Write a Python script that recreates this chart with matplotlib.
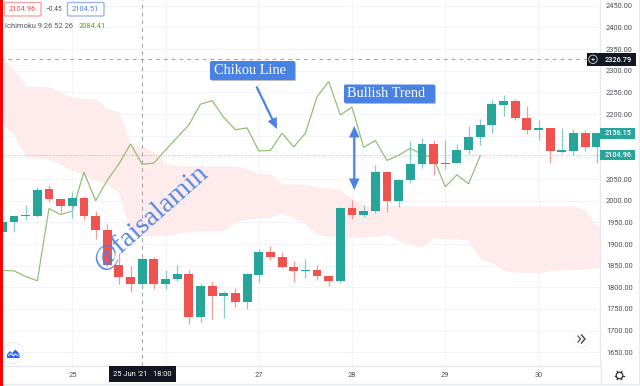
import matplotlib
matplotlib.use("Agg")
import matplotlib.pyplot as plt
from matplotlib.patches import Rectangle, FancyBboxPatch, Circle, FancyArrow, Polygon
import numpy as np

W, H = 640, 386
AX_R, AX_B = 600, 366

# candle data: open, high, low, close, one value per 3-hour candle
first_index = -6
opens = [1928,1950,1964,1964,2027,2004,1988,2006,1964,1933,1852,1824,1808,1865,1808,1820,
         1831,1731,1802,1779,1788,1765,1829,1882,1870,1848,1838,1839,1825,1815,1982,1968,
         1976,2066,2000,2047,2085,2131,2084,2087,2117,2146,2175,2222,2231,2192,2164,2168,
         2113,2115,2156,2124]
highs = [1955,1968,1990,2032,2036,2004,2020,2010,1976,1947,1879,1849,1870,1869,1841,1852,
         1841,1810,1814,1791,1798,1834,1888,1895,1881,1860,1865,1852,1827,1985,2001,1989,
         2083,2069,2050,2137,2145,2140,2140,2130,2172,2189,2235,2245,2235,2219,2186,2169,
         2168,2165,2163,2157]
lows = [1925,1927,1956,1962,1996,1971,1960,1956,1912,1850,1808,1790,1796,1796,1795,1814,
        1716,1720,1727,1728,1755,1751,1812,1862,1844,1812,1822,1816,1802,1810,1958,1962,
        1971,1975,1985,2042,2076,2059,2073,2086,2107,2129,2157,2196,2186,2154,2140,2086,
        2110,2105,2114,2088]
closes = [1950,1965,1966,2025,2004,1988,2006,1964,1933,1852,1824,1808,1865,1808,1820,1831,
          1731,1802,1779,1788,1765,1830,1882,1870,1848,1838,1840,1825,1815,1982,1968,1976,
          2066,2000,2047,2085,2131,2084,2087,2117,2146,2175,2223,2231,2192,2164,2168,2115,
          2116,2156,2124,2156]

# Chikou line
chikou = [1839,1838,1825,1815,1982,1968,1976,2066,2000,2047,2085,2131,2084,2087,2117,2146,
          2175,2223,2231,2192,2164,2168,2115,2116,2156,2124,2156,2240,2275,2198,2216,2123,
          2139,2093,2105,2121,2107,2099,2032,2060,2039,2104]

# cloud edges
cloud_upper = [2329,2302,2265,2264,2263,2252,2239,2236,2235,2212,2205,2129,2127,2112,2085,2081,
               2080,2080,2080,2080,2080,2075,2063,2062,2039,2039,2038,2032,2030,2025,2006,1989,
               1988,1988,1988,1988,1988,1988,1988,1988,1988,1988,1988,1988,1988,1988,1988,1988,
               1988,1988,1979,1942]
cloud_lower = [2179,2152,2102,2099,2096,2084,2071,2059,2048,2039,2018,1925,1919,1919,1919,1925,
               1929,1930,1930,1931,1952,1958,1960,1962,1972,1960,1946,1922,1918,1916,1916,1916,
               1917,1923,1908,1899,1893,1915,1912,1912,1908,1864,1856,1838,1835,1834,1833,1839,
               1840,1841,1842,1844]

price_ticks = [1650,1700,1750,1800,1850,1900,1950,2000,2050,2100,2150,2200,2250,2300,2350,2400,2450]
price_labels_hidden = [2100, 2150]
day_ticks = [0, 8, 16, 24, 32, 40]
day_labels = ["25", "", "27", "28", "29", "30"]

crosshair_price = 2326.79
crosshair_index = 6
last_price = 2104.96
label_price = 2156.15

GREEN, RED = "#26a69a", "#ef5350"
BLUE = "#4a82e4"
FONT = "Roboto"
SERIF = "Liberation Serif"

fig = plt.figure(figsize=(W/100, H/100), dpi=100, facecolor="white")
ax = fig.add_axes([0, 1-AX_B/H, AX_R/W, AX_B/H])
sp = 11.655
ax.set_xlim((0-72.3)/sp, (AX_R-72.3)/sp)
ax.set_ylim(2000-(AX_B-200.7)*2.309, 2000+200.7*2.309)

idx = np.arange(first_index, first_index+len(opens))
ax.set_yticks(price_ticks)
ax.set_xticks(day_ticks)
ax.set_xticklabels(day_labels)
ax.yaxis.tick_right()
ax.tick_params(axis="both", length=0, labelsize=5.3, labelcolor="#4c4f58", labelfontfamily=FONT)
ax.tick_params(axis="y", pad=4.3)
ax.tick_params(axis="x", pad=4.5)
ax.set_yticklabels([f"{p}.00" if p not in price_labels_hidden else "" for p in price_ticks])
ax.grid(True, color="#f2f4f9", lw=0.8, zorder=0)
ax.set_axisbelow(True)
for n, s in ax.spines.items():
    s.set_visible(n in ("right", "bottom"))
    s.set_color("#e6e8ee")
    s.set_linewidth(1.0)

# cloud
cx = np.append(idx, idx[-1]+0.25)
ax.fill_between(cx, cloud_lower+[cloud_lower[-1]], cloud_upper+[cloud_upper[-1]],
                color="#feecec", lw=0, zorder=1)

# crosshair and price line
ax.axvline(crosshair_index, color="#a4a6ac", lw=0.8, ls=(0, (3.5, 3.5)), zorder=2)
ax.axhline(crosshair_price, color="#a4a6ac", lw=0.8, ls=(0, (3.5, 3.5)), zorder=2)
ax.axhline(last_price, color="#26a69a", lw=0.7, ls=(0, (1, 1.5)), alpha=0.5, zorder=2)

# Chikou
ax.plot(idx[:len(chikou)], chikou, color="#8dbd6e", lw=0.85, zorder=3, solid_joinstyle="miter")

# candles
o, h, l, c = map(np.array, (opens, highs, lows, closes))
cols = [GREEN if cc >= oo else RED for oo, cc in zip(o, c)]
wick_cols = ["#86cdc5" if cc >= oo else "#f59a98" for oo, cc in zip(o, c)]
ax.vlines(idx, l, h, colors=wick_cols, lw=0.9, zorder=4)
ax.bar(idx, np.abs(c-o), bottom=np.minimum(o, c), width=0.76, color=cols, lw=0, zorder=5)

# overlay in pixel coordinates
ov = fig.add_axes([0, 0, 1, 1], facecolor="none")
ov.set_xlim(0, W); ov.set_ylim(H, 0); ov.axis("off")

ov.add_patch(Rectangle((0, 0), 3, H, color="#ff0000", lw=0, zorder=20))

def box(x0, y0, x1, y1, fc, ec="none", r=1.5, z=10, lw=1.0):
    ov.add_patch(FancyBboxPatch((x0+r, y0+r), x1-x0-2*r, y1-y0-2*r,
                 boxstyle=f"round,pad={r},rounding_size={r}", fc=fc, ec=ec, lw=lw, zorder=z))

# header
box(4.5, 2.5, 41, 16, "white", "#f5a5a3")
ov.text(22.7, 9.8, "2104.96", color="#ef5350", fontsize=5.4, family=FONT, ha="center", va="center", zorder=11)
ov.text(54, 9.6, "\u22120.45", color="#555", fontsize=4.8, family=FONT, ha="center", va="center")
box(67.5, 2.5, 104, 16, "white", "#9bb6f0")
ov.text(85.7, 9.8, "2104.51", color="#4a7fe8", fontsize=5.4, family=FONT, ha="center", va="center", zorder=11)
ov.text(5, 26.5, "Ichimoku 9 26 52 26", color="#555860", fontsize=5.4, family=FONT, ha="left", va="center")
ov.text(79, 26.5, "2084.41", color="#5aa02c", fontsize=5.4, family=FONT, ha="left", va="center")

# right-axis badges
ov.add_patch(Rectangle((586.5, 53), 49, 12.5, color="#131722", lw=0, zorder=10))
ov.add_patch(Circle((593, 59.3), 4.2, fc="none", ec="#d8d9dc", lw=0.6, zorder=11))
ov.text(593, 59.3, "+", color="white", fontsize=5.5, family=FONT, ha="center", va="center", zorder=11)
ov.text(618.4, 59.6, f"{crosshair_price:.2f}", color="white", fontsize=5.3, family=FONT, weight="medium",
        ha="center", va="center", zorder=11)
for p, yc in ((label_price, 133.2), (last_price, 155.2)):
    ov.add_patch(Rectangle((600, yc-5.3), 35, 10.6, color=GREEN, lw=0, zorder=10))
    ov.text(618.4, yc+0.2, f"{p:.2f}", color="white", fontsize=5.3, family=FONT, weight="medium",
            ha="center", va="center", zorder=11)

# date box
ov.add_patch(Rectangle((109, 366), 67, 15.5, color="#131722", lw=0, zorder=10))
ov.text(142.5, 375, "25 Jun '21   18:00", color="white", fontsize=5.4, family=FONT,
        ha="center", va="center", zorder=11)

# annotations
box(211, 62, 296, 81, "#b9bcc4", z=11, r=1.5)
box(210, 61, 295, 80, BLUE, z=12, r=1.5)
ov.text(250, 70, "Chikou Line", color="white", fontsize=10.4, family=SERIF, ha="center", va="center", zorder=13)
box(345, 85.5, 436, 104, "#b9bcc4", z=11, r=1.5)
box(344, 84.5, 435, 103, BLUE, z=12, r=1.5)
ov.text(386.5, 93.5, "Bullish Trend", color="white", fontsize=10.3, family=SERIF, ha="center", va="center", zorder=13)

ov.add_patch(FancyArrow(256.5, 86.5, 20.5, 42.5, width=2.2, head_width=10, head_length=11,
                        length_includes_head=True, color=BLUE, lw=0, zorder=12))
ov.add_patch(FancyArrow(354.3, 158, 0, -32, width=2.2, head_width=10.5, head_length=11.5,
                        length_includes_head=True, color=BLUE, lw=0, zorder=12))
ov.add_patch(FancyArrow(354.3, 158, 0, 32, width=2.2, head_width=10.5, head_length=11.5,
                        length_includes_head=True, color=BLUE, lw=0, zorder=12))

# watermark
ov.text(151, 217.5, "@faisalamin", color="#4a82e4", fontsize=20.5, family=SERIF, rotation=41.5,
        rotation_mode="anchor", ha="center", va="center", zorder=14, alpha=0.95)

# round buttons
ov.add_patch(Circle((13, 353), 10.5, fc="white", ec="#eceef2", lw=0.8, zorder=9))
ov.add_patch(Polygon([(7, 358), (7, 354.5), (10, 351), (12.5, 353), (15, 349.5), (18, 352), (19.5, 355), (19.5, 358)],
                     fc="#2962ff", lw=0, zorder=10))
ov.plot([8.5, 11, 13.5, 15, 18], [355.5, 353.5, 356, 354, 355.5], color="white", lw=0.7, zorder=11)

ov.add_patch(Circle((582, 339), 8.5, fc="#e8e8ea", lw=0, zorder=8))
ov.add_patch(Circle((582, 338.4), 8.3, fc="white", lw=0, zorder=9))
ov.plot([578, 580.5, 578], [336, 339, 342], color="#4c4f58", lw=0.9, zorder=10)
ov.plot([581.5, 585, 581.5], [335, 339, 343], color="#4c4f58", lw=1.1, zorder=10)

# gear
ov.add_patch(Circle((619.5, 375.5), 3.3, fc="white", ec="#2c2f38", lw=0.9, zorder=10))
for a in np.arange(0, 2*np.pi, np.pi/3):
    ov.plot([619.5+3.3*np.cos(a), 619.5+4.6*np.cos(a)], [375.5+3.3*np.sin(a), 375.5+4.6*np.sin(a)],
            color="#2c2f38", lw=0.9, zorder=10)

# frame lines
ov.plot([0, W], [383.5, 383.5], color="#e4e6ee", lw=1.0, zorder=6)
ov.plot([600.5, 600.5], [366, 383], color="#e6e8ee", lw=1.0, zorder=6)
ov.plot([638.5, 638.5], [0, 383], color="#e8eaf0", lw=0.8, zorder=6)

fig.savefig("out.png", dpi=100, facecolor="white")
